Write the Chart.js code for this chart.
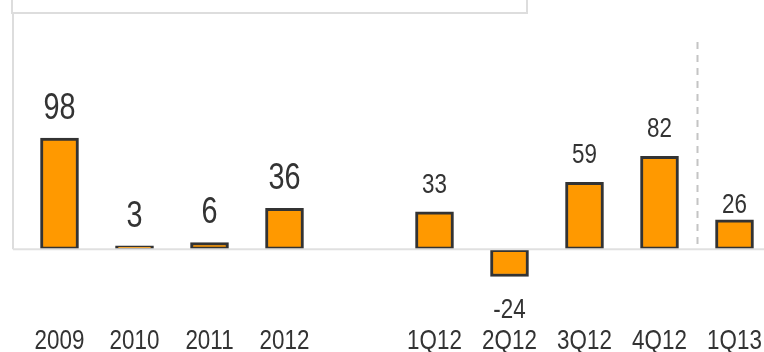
<!DOCTYPE html>
<html>
<head>
<meta charset="utf-8">
<script src="https://cdn.jsdelivr.net/npm/chart.js@4/dist/chart.umd.min.js"></script>
<style>
  html, body { margin: 0; padding: 0; background: #fff; overflow: hidden; }
  #wrap { width: 776px; height: 352px; }
</style>
</head>
<body>
<div id="wrap"><canvas id="c" width="776" height="352"></canvas></div>
<script>
// periods: four years, a gap, then quarters
var periods = ['2009', '2010', '2011', '2012', '', '1Q12', '2Q12', '3Q12', '4Q12', '1Q13'];
var values = [98, 3, 6, 36, null, 33, -24, 59, 82, 26];

var FONT = '"Liberation Sans", Arial, sans-serif';
var INK = '#333333';

// narrow text: the original uses a condensed face
function narrowText(ctx, txt, x, y, size){
    ctx.save();
    ctx.font = size + 'px ' + FONT;
    ctx.translate(x, y);
    ctx.scale(0.8, 1);
    ctx.fillText(txt, 0, 0);
    ctx.restore();
}

var decor = {
    id: 'decor',
    beforeDatasetsDraw: function(chart){
        var ctx = chart.ctx, x = chart.scales.x, y = chart.scales.y;
        var zero = y.getPixelForValue(0);
        ctx.save();
        // title box, cut by the top edge
        ctx.strokeStyle = '#dddddd';
        ctx.lineWidth = 2;
        ctx.strokeRect(12, -10, 515, 23);
        // left rule
        ctx.beginPath();
        ctx.moveTo(13, 13);
        ctx.lineTo(13, zero);
        ctx.stroke();
        // divider between 4Q12 and 1Q13
        var dx = Math.round((x.getPixelForValue(8) + x.getPixelForValue(9)) / 2) + 0.5;
        ctx.strokeStyle = '#c4c4c4';
        ctx.setLineDash([7, 6]);
        ctx.beginPath();
        ctx.moveTo(dx, 42);
        ctx.lineTo(dx, zero - 4);
        ctx.stroke();
        ctx.restore();
    },
    afterDatasetsDraw: function(chart){
        var ctx = chart.ctx, x = chart.scales.x, y = chart.scales.y;
        var zero = y.getPixelForValue(0);
        ctx.save();
        ctx.strokeStyle = '#e0e0e0';
        ctx.lineWidth = 2;
        ctx.beginPath();
        ctx.moveTo(13, zero);
        ctx.lineTo(chart.width, zero);
        ctx.stroke();

        ctx.fillStyle = INK;
        ctx.textAlign = 'center';
        ctx.textBaseline = 'alphabetic';
        // category labels
        periods.forEach(function(p, i){
            if (p) narrowText(ctx, p, x.getPixelForValue(i), 349, 28);
        });
        // value labels
        var meta = chart.getDatasetMeta(0);
        meta.data.forEach(function(bar, i){
            var v = values[i];
            if (v === null) return;
            var size = i < 4 ? 36 : 28;
            var ty;
            if (v < 0) ty = bar.y + 41;
            else if (i === 9) ty = bar.y - 7;
            else ty = bar.y - 19;
            narrowText(ctx, String(v), bar.x, ty, size);
        });
        ctx.restore();
    }
};

new Chart(document.getElementById('c').getContext('2d'), {
    type: 'bar',
    data: {
        labels: periods,
        datasets: [{
            data: values,
            backgroundColor: '#ff9900',
            borderColor: INK,
            borderWidth: 3,
            borderSkipped: false,
            barThickness: 38
        }]
    },
    options: {
        responsive: false,
        animation: false,
        layout: { padding: { left: 22, right: 4, top: 20, bottom: 38 } },
        plugins: { legend: { display: false }, tooltip: { enabled: false } },
        scales: {
            x: { display: false },
            y: { display: false, min: -57, max: 202 }
        }
    },
    plugins: [decor]
});
</script>
</body>
</html>
